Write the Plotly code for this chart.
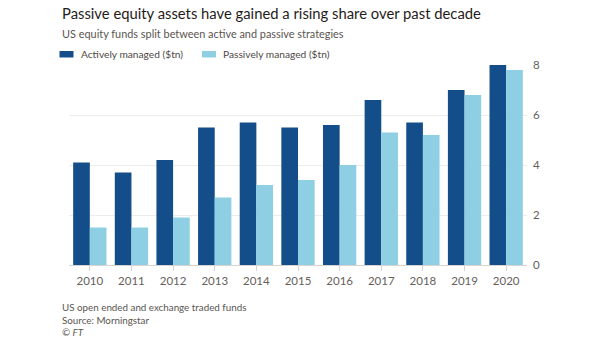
import plotly.graph_objects as go

years = ["2010", "2011", "2012", "2013", "2014", "2015", "2016", "2017", "2018", "2019", "2020"]
active = [4.1, 3.7, 4.2, 5.5, 5.7, 5.5, 5.6, 6.6, 5.7, 7.0, 8.0]
passive = [1.5, 1.5, 1.9, 2.7, 3.2, 3.4, 4.0, 5.3, 5.2, 6.8, 7.8]
series_names = ["Actively managed ($tn)", "Passively managed ($tn)"]
y_ticks = [0, 2, 4, 6, 8]

DARK = "#134e8a"
LIGHT = "#8ecfe4"
FONT = "Lato"

W, H = 605, 341
L, R, T, B = 69, 78, 65, 76
PW, PH = W - L - R, H - T - B


def px(x):
    return (x - L) / PW


def py(y):
    return (H - B - y) / PH


fig = go.Figure()
fig.add_trace(go.Bar(x=years, y=active, name=series_names[0],
                     marker=dict(color=DARK, line=dict(width=0)), showlegend=False))
fig.add_trace(go.Bar(x=years, y=passive, name=series_names[1],
                     marker=dict(color=LIGHT, line=dict(width=0)), showlegend=False))

fig.update_layout(
    width=W, height=H,
    margin=dict(l=L, r=R, t=T, b=B),
    paper_bgcolor="white", plot_bgcolor="white",
    barmode="group", bargap=0.2, bargroupgap=0,
    font=dict(family=FONT, color="#66605c", size=11),
    xaxis=dict(
        showgrid=False, ticks="outside", ticklen=5, tickcolor="#d6d3d0",
        tickfont=dict(size=11.5, color="#66605c"), showline=False,
    ),
    yaxis=dict(
        side="right", range=[0, 8], tickvals=y_ticks, showgrid=True, gridcolor="#eeecea",
        gridwidth=1, zeroline=True, zerolinecolor="#d6d3d0", zerolinewidth=1,
        tickfont=dict(size=11.5, color="#66605c"), ticks="", ticklabelstandoff=5,
    ),
)

# Title, subtitle
fig.add_annotation(text="Passive equity assets have gained a rising share over past decade",
                   xref="paper", yref="paper", x=px(59.5), y=py(13), xanchor="left", yanchor="middle",
                   showarrow=False, font=dict(family=FONT, size=14.8, color="#1f1c1a"))
fig.add_annotation(text="US equity funds split between active and passive strategies",
                   xref="paper", yref="paper", x=px(59.5), y=py(34), xanchor="left", yanchor="middle",
                   showarrow=False, font=dict(family=FONT, size=10.9, color="#5a5551"))

# Legend (manual)
legend_items = [(series_names[0], DARK, 59.5), (series_names[1], LIGHT, 202)]
for name, col, x0 in legend_items:
    fig.add_shape(type="rect", xref="paper", yref="paper",
                  x0=px(x0), x1=px(x0 + 14), y0=py(57.5), y1=py(51),
                  fillcolor=col, line=dict(width=0))
    fig.add_annotation(text=name, xref="paper", yref="paper", x=px(x0 + 19), y=py(54),
                       xanchor="left", yanchor="middle", showarrow=False,
                       font=dict(family=FONT, size=10.2, color="#4d4845"))

# Footer
footer = ["US open ended and exchange traded funds", "Source: Morningstar", "<i>© FT</i>"]
for i, line in enumerate(footer):
    fig.add_annotation(text=line, xref="paper", yref="paper", x=px(59.5), y=py(307 + 12.5 * i),
                       xanchor="left", yanchor="middle", showarrow=False,
                       font=dict(family=FONT, size=9.8, color="#5a5551"))

fig.write_html("out.html")
